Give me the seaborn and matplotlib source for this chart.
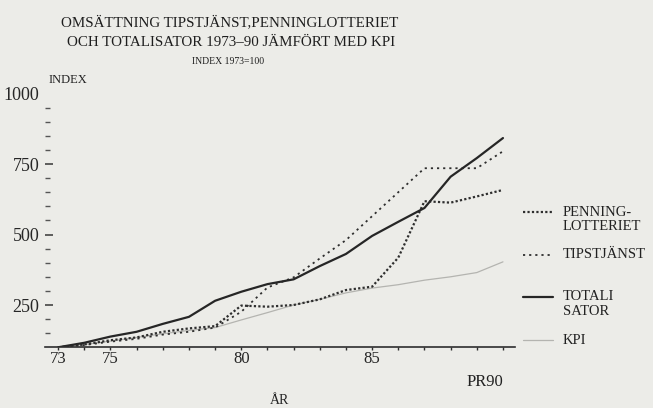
import numpy as np
import pandas as pd
import matplotlib
matplotlib.use('Agg')
import matplotlib.pyplot as plt
from matplotlib.lines import Line2D
import seaborn as sns

# Data (index 1973 = 100)
years = [73, 74, 75, 76, 77, 78, 79, 80, 81, 82, 83, 84, 85, 86, 87, 88, 89, 90]
penning = [100, 110, 125, 135, 155, 167, 175, 248, 244, 250, 270, 303, 315, 418, 618, 613, 635, 658]
tipst = [100, 108, 120, 130, 145, 155, 170, 226, 312, 348, 415, 480, 565, 650, 735, 735, 735, 795]
totalisator = [100, 116, 138, 155, 183, 208, 265, 297, 324, 341, 388, 431, 495, 545, 594, 705, 771, 842]
kpi = [100, 110, 122, 135, 148, 160, 170, 197, 223, 250, 270, 293, 310, 322, 338, 350, 365, 403]

xtick_labels = {73: '73', 75: '75', 80: '80', 85: '85'}
ymajor = [250, 500, 750, 1000]
yminor = [150, 200, 300, 350, 400, 450, 550, 600, 650, 700, 800, 850, 900, 950]

df = pd.DataFrame({
    'year': years * 4,
    'index': penning + tipst + totalisator + kpi,
    'serie': (['PENNINGLOTTERIET'] * len(years) + ['TIPSTJÄNST'] * len(years)
              + ['TOTALISATOR'] * len(years) + ['KPI'] * len(years)),
})

sns.set_style('white')
plt.rcParams['font.family'] = ['Liberation Serif', 'DejaVu Serif']

bg = '#ecece8'
ink = '#2e2e2e'
styles = {
    'KPI': dict(color='#b4b4b0', lw=0.9, ls='-'),
    'PENNINGLOTTERIET': dict(color=ink, lw=1.6, ls=(0, (1, 1))),
    'TIPSTJÄNST': dict(color=ink, lw=1.3, ls=(0, (1.2, 2.2))),
    'TOTALISATOR': dict(color='#262626', lw=1.6, ls='-'),
}

fig = plt.figure(figsize=(6.53, 4.08), dpi=100, facecolor=bg)
ax = fig.add_axes([45 / 653, (408 - 347.3) / 408, 470 / 653, (347.3 - 93.5) / 408])
ax.set_facecolor(bg)

for name in ['KPI', 'PENNINGLOTTERIET', 'TIPSTJÄNST', 'TOTALISATOR']:
    st = styles[name]
    sns.lineplot(data=df[df['serie'] == name], x='year', y='index', ax=ax,
                 color=st['color'], linewidth=st['lw'], linestyle=st['ls'],
                 legend=False)

ax.set_xlim(72.5, 90.46)
ax.set_ylim(100, 1000)

for s in ['left', 'top', 'right']:
    ax.spines[s].set_visible(False)
ax.spines['bottom'].set_color(ink)
ax.spines['bottom'].set_linewidth(1.2)

ax.set_xticks(years)
ax.set_xticklabels([xtick_labels.get(y, '') for y in years], fontsize=12)
ax.tick_params(axis='x', bottom=True, direction='out', length=2.5, width=1, color=ink, pad=0.5)

ax.set_yticks(ymajor)
ax.set_yticklabels([str(v) for v in ymajor], fontsize=13)
ax.set_yticks(yminor, minor=True)
ax.tick_params(axis='y', which='major', left=True, direction='in', length=6, width=1.2,
               color='#444444', pad=4)
ax.tick_params(axis='y', which='minor', left=True, direction='in', length=3.5, width=1,
               color='#555555')
ax.yaxis.get_major_ticks()[-1].tick1line.set_visible(False)
ax.grid(False)

ax.set_ylabel('')
ax.set_xlabel('ÅR', fontsize=10)
ax.xaxis.label.set_va('center')
ax.xaxis.set_label_coords(0.5, (347.3 - 401) / 253.8)

ax.annotate('PR90', xy=(90, 100), xytext=(0, -24.8), textcoords='offset points',
            ha='right', va='center', fontsize=12, color='#222222')

# titles
fig.text(230 / 653, 1 - 22 / 408, 'OMSÄTTNING TIPSTJÄNST,PENNINGLOTTERIET',
         ha='center', va='center', fontsize=10.8, color='#1e1e1e')
fig.text(231 / 653, 1 - 43 / 408, 'OCH TOTALISATOR 1973–90 JÄMFÖRT MED KPI',
         ha='center', va='center', fontsize=10.8, color='#1e1e1e')
fig.text(228 / 653, 1 - 62 / 408, 'INDEX 1973=100',
         ha='center', va='center', fontsize=7, color='#1e1e1e')
fig.text(49 / 653, 1 - 80 / 408, 'INDEX', ha='left', va='center', fontsize=9, color='#222222')

# legend drawn at the right
legend_rows = [
    ('PENNINGLOTTERIET', 212, ['PENNING-', 'LOTTERIET']),
    ('TIPSTJÄNST', 255, ['TIPSTJÄNST']),
    ('TOTALISATOR', 297, ['TOTALI', 'SATOR']),
    ('KPI', 340, ['KPI']),
]
for name, ypix, lines in legend_rows:
    st = styles[name]
    yf = 1 - ypix / 408
    fig.add_artist(Line2D([523 / 653, 553 / 653], [yf, yf], transform=fig.transFigure,
                          color=st['color'], lw=st['lw'], ls=st['ls']))
    for i, txt in enumerate(lines):
        fig.text(563 / 653, 1 - (ypix + 14.5 * i) / 408, txt, ha='left', va='center',
                 fontsize=10.5, color='#222222')

fig.savefig('out.png', dpi=100, facecolor=bg)
